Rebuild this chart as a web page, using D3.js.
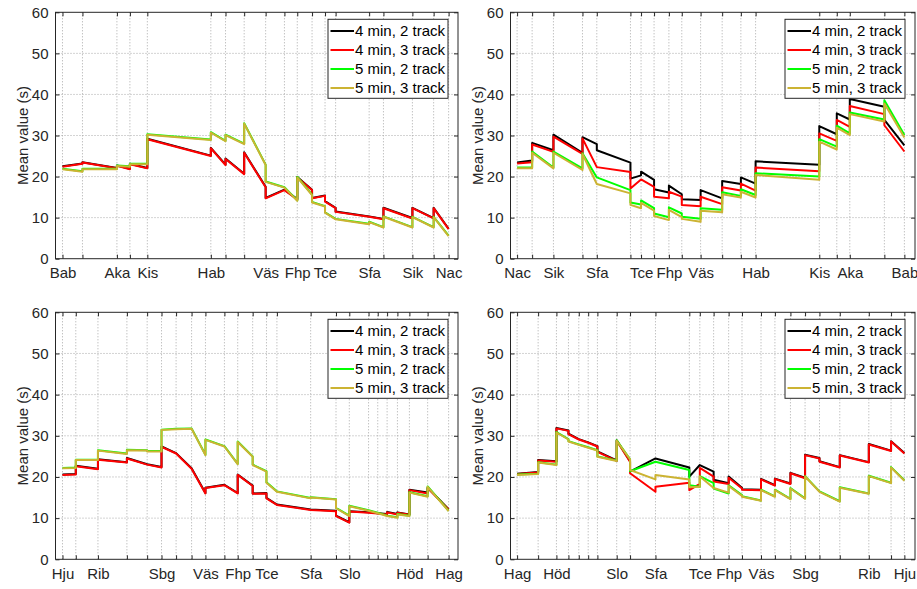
<!DOCTYPE html>
<html lang="en">
<head>
<meta charset="utf-8">
<title>Mean value per station</title>
<script src="https://cdn.jsdelivr.net/npm/d3@7"></script>
<style>
  body { margin: 0; background: #fff; }
  svg { font-family: "Liberation Sans", Arial, Helvetica, sans-serif; }
</style>
</head>
<body>
<svg width="917" height="589"></svg>
<script>
// stations along the two lines (distance in m from first station)
const stationsA = ["Bab","","Aka","","Kis","Hab","","","Väs","","Fhp","","Tce","","Sfa","","Sik","","Nac"];
const posA = [0, 500, 1363, 1688, 2125, 3715, 4083, 4550, 5088, 5558, 5880, 6250, 6575, 6840, 7680, 8038, 8763, 9295, 9670];
const stationsB = ["Hju","","Rib","","","Sbg","","","Väs","","Fhp","","Tce","","Sfa","","Slo","","","","","Höd","","Hag"];
const posB = [0, 333, 888, 1613, 2120, 2480, 2845, 3233, 3580, 4055, 4388, 4763, 5108, 5370, 6215, 6850, 7183, 7665, 7895, 8130, 8388, 8688, 9145, 9670];

const seriesNames = ["4 min, 2 track", "4 min, 3 track", "5 min, 2 track", "5 min, 3 track"];
const seriesColors = ["#000000", "#ff0000", "#00ff00", "#ccb333"];
const yTicks = [0, 10, 20, 30, 40, 50, 60];

// value per station: number, or [arriving, departing]
// panel 1: Bab -> Nac
const p1Black = [22.5, [23.2,23.5], [22.1,22.7], [21.9,23.1], [22.1,29.2], [25.1,27.0], [22.9,24.4], [20.7,25.9], [17.5,14.8], 16.8, [14.5,19.9], [16.8,14.8], [15.4,14.0], [12.4,11.5], 10.3, [9.7,12.4], [9.9,12.4], [9.9,12.4], 7.3];
const p1Red = [22.4, [23.1,23.4], [22.0,22.6], [21.8,23.0], [22.0,29.1], [25.0,26.9], [22.8,24.3], [20.6,25.8], [17.4,14.7], 16.7, [14.4,19.8], [16.7,14.7], [15.3,13.9], [12.3,11.4], 10.2, [9.6,12.3], [9.8,12.3], [9.8,12.3], 7.2];
const p1Green = [21.9, [21.3,21.9], [21.9,22.7], [22.5,23.1], [23.1,30.3], [29.0,30.8], [28.7,30.2], [28.0,33.0], [22.9,18.8], 17.4, [14.2,19.9], [15.6,13.8], [12.8,11.3], 9.7, [8.5,9.0], [7.7,10.3], [7.7,10.2], [7.7,10.2], 5.6];
const p1Olive = [21.8, [21.2,21.8], [21.8,22.6], [22.4,23.0], [23.0,30.2], [28.9,30.7], [28.6,30.1], [27.9,32.9], [22.8,18.7], 17.3, [14.1,19.8], [15.5,13.7], [12.7,11.2], 9.6, [8.4,8.9], [7.6,10.2], [7.6,10.1], [7.6,10.1], 5.5];

// panel 2: Nac -> Bab
const p2Black = [23.4, [23.9,28.2], [26.4,30.2], [25.8,29.6], [27.9,26.4], [23.4,19.5], [20.3,21.2], [19.2,16.9], [16.1,17.8], [15.7,14.5], [14.3,16.7], [14.7,18.9], [18.2,19.8], [18.3,23.7], [22.9,32.3], [30.3,35.4], [33.9,38.9], [37.0,33.8], 27.6];
const p2Red = [23.2, [23.5,27.8], [26.0,29.7], [25.5,29.3], 22.3, [21.1,17.1], 19.3, [17.5,15.1], [14.7,16.3], [15.1,13.1], [12.8,15.1], [13.3,17.4], [16.6,18.3], [16.6,22.2], [21.3,30.5], [28.7,33.8], [32.1,37.2], [35.2,32.5], 26.1];
const p2Green = [22.2, [22.2,26.1], [22.2,26.1], [22.0,25.7], 19.8, [16.7,13.7], [13.2,14.2], [12.3,11.0], [10.1,12.5], [11.0,10.2], [9.7,12.3], [11.9,16.2], [15.3,16.9], [15.5,20.8], [20.0,29.1], [27.3,32.4], [30.5,35.6], [33.9,38.6], 30.1];
const p2Olive = [22.0, [22.0,25.8], [22.0,25.8], [21.6,25.5], 18.2, [15.9,13.1], [12.3,13.6], [11.7,10.4], [9.4,11.9], [10.1,9.7], [9.0,11.7], [11.3,15.7], [14.9,16.3], [14.9,20.4], [19.2,28.5], [26.6,31.9], [30.1,35.2], [33.4,37.8], 29.5];

// panel 3: Hju -> Hag
const p3Black = [20.6, [20.7,22.7], [22.0,24.3], [23.6,24.6], 23.1, [22.4,27.4], 25.8, 22.1, [16.1,17.4], 18.1, [16.1,20.6], [17.9,16.0], [16.1,14.9], 13.3, 12.1, [11.8,10.6], [9.0,11.7], 11.4, 11.2, [11.0,11.5], [11.0,11.4], [10.9,16.9], [16.2,17.4], 12.2];
const p3Red = [20.5, [20.6,22.6], [21.9,24.2], [23.5,24.5], 23.0, [22.3,27.3], 25.7, 22.0, [16.0,17.3], 18.0, [16.0,20.5], [17.8,15.9], [16.0,14.8], 13.2, 12.0, [11.7,10.5], [8.9,11.6], 11.3, 11.1, [10.9,11.4], [10.9,11.3], [10.8,16.8], [16.0,17.3], 12.1];
const p3Green = [22.2, [22.3,24.2], [24.2,26.5], [25.7,26.6], [26.5,26.3], [26.3,31.5], 31.7, 31.8, [25.4,29.1], 27.5, [23.2,28.6], [25.0,23.0], [21.4,18.7], 16.5, [14.9,15.1], [14.6,12.5], [10.6,13.0], 11.9, 11.3, 10.6, [10.2,11.0], [10.6,16.3], [15.3,17.7], 11.8];
const p3Olive = [22.1, [22.2,24.1], [24.1,26.4], [25.6,26.5], [26.4,26.2], [26.2,31.4], 31.6, 31.7, [25.3,29.0], 27.4, [23.1,28.5], [24.9,22.9], [21.3,18.6], 16.4, [14.8,15.0], [14.5,12.4], [10.5,12.9], 11.8, 11.2, 10.5, [10.1,10.9], [10.5,16.2], [15.2,17.6], 11.7];

// panel 4: Hag -> Hju
const p4Black = [20.8, [21.2,24.1], [23.8,31.9], [31.3,30.5], 29.2, 28.4, [27.5,26.2], [24.0,28.9], [23.8,21.3], 24.5, [22.3,20.1], 22.9, [21.3,19.3], [18.5,20.1], [17.4,17.0], [16.9,19.5], [18.0,19.6], [18.4,21.0], [19.8,25.4], [24.6,23.8], [22.4,25.3], [23.6,28.0], [26.4,28.7], 25.8];
const p4Red = [20.7, [21.1,24.0], [23.7,31.8], [31.2,30.4], 29.1, 28.3, [27.4,26.1], [23.9,28.8], [23.7,20.9], [16.4,17.6], [18.6,16.8], [18.3,22.2], [20.1,18.9], [18.3,19.8], [17.2,16.9], [16.8,19.4], [17.9,19.5], [18.3,20.9], [19.7,25.3], [24.5,23.7], [22.3,25.2], [23.5,27.9], [26.3,28.6], 25.7];
const p4Green = [20.6, [20.8,23.6], [23.0,30.9], [29.2,28.7], 27.9, 27.2, [26.5,25.0], [24.0,28.9], [24.3,21.4], 23.7, [21.7,18.0], [17.6,20.2], [18.5,17.2], [16.0,18.0], [15.6,15.3], [14.3,16.9], [15.3,16.9], [14.7,17.3], [14.8,20.2], 16.5, [14.1,17.5], [16.0,20.3], [18.6,22.4], 19.2];
const p4Olive = [20.5, [20.7,23.5], [22.9,30.8], [29.1,28.6], 27.8, 27.1, [26.4,24.9], [23.9,28.8], [24.3,21.7], [19.4,20.5], [19.4,17.5], [17.6,20.1], 17.3, [16.2,17.8], [15.4,15.2], [14.2,16.8], [15.2,16.8], [14.6,17.2], [14.7,20.1], 16.4, [14.0,17.4], [15.9,20.2], [18.5,22.3], 19.1];

const axisColor = "#262626";
const total = 9670;

const panels = [
  { box: [55.5, 12.3, 458, 258.7], labels: stationsA, pos: posA, reversed: false, series: [p1Black, p1Red, p1Green, p1Olive] },
  { box: [510.5, 12.3, 915, 258.7], labels: stationsA.slice().reverse(), pos: posA.slice().reverse(), reversed: true, series: [p2Black, p2Red, p2Green, p2Olive] },
  { box: [55.5, 312.3, 458, 559.3], labels: stationsB, pos: posB, reversed: false, series: [p3Black, p3Red, p3Green, p3Olive] },
  { box: [510.5, 312.3, 915, 559.3], labels: stationsB.slice().reverse(), pos: posB.slice().reverse(), reversed: true, series: [p4Black, p4Red, p4Green, p4Olive] }
];

const svg = d3.select("svg");

panels.forEach(p => {
  const [x0, y0, x1, y1] = p.box;
  const x = d3.scaleLinear()
    .domain(p.reversed ? [total + 165, -265] : [-175, total + 235])
    .range([x0, x1]);
  const y = d3.scaleLinear().domain([0, 60]).range([y1, y0]);

  const g = svg.append("g");

  // grid
  g.append("g").selectAll("line").data(p.pos).enter().append("line")
    .attr("x1", d => x(d)).attr("x2", d => x(d))
    .attr("y1", y0).attr("y2", y1)
    .attr("stroke", "#a8a8a8").attr("stroke-width", 1)
    .attr("stroke-dasharray", "1,2");
  g.append("g").selectAll("line").data(yTicks.slice(1, -1)).enter().append("line")
    .attr("x1", x0).attr("x2", x1)
    .attr("y1", d => y(d)).attr("y2", d => y(d))
    .attr("stroke", "#a8a8a8").attr("stroke-width", 1)
    .attr("stroke-dasharray", "1,2");

  // series lines
  const line = d3.line().x(d => x(d[0])).y(d => y(d[1]));
  p.series.forEach((s, k) => {
    const pts = [];
    s.forEach((v, i) => {
      if (Array.isArray(v)) { pts.push([p.pos[i], v[0]]); pts.push([p.pos[i], v[1]]); }
      else pts.push([p.pos[i], v]);
    });
    g.append("path").datum(pts)
      .attr("d", line)
      .attr("fill", "none")
      .attr("stroke", seriesColors[k])
      .attr("stroke-width", 2)
      .attr("stroke-linejoin", "round");
  });

  // axes (ticks inside, box on)
  const xb = d3.axisBottom(x).tickValues(p.pos).tickSize(-4).tickPadding(9)
    .tickFormat((d, i) => p.labels[i]);
  const xt = d3.axisTop(x).tickValues(p.pos).tickSize(-4).tickFormat("");
  const yl = d3.axisLeft(y).tickValues(yTicks).tickSize(-4).tickPadding(7);
  const yr = d3.axisRight(y).tickValues(yTicks).tickSize(-4).tickFormat("");

  const styleAxis = a => {
    a.select(".domain").attr("stroke", axisColor);
    a.selectAll(".tick line").attr("stroke", axisColor);
    a.selectAll(".tick text").attr("fill", axisColor).attr("font-size", 15)
      .attr("font-family", "'Liberation Sans', Arial, sans-serif");
  };
  g.append("g").attr("transform", `translate(0,${y1})`).call(xb).call(styleAxis);
  g.append("g").attr("transform", `translate(0,${y0})`).call(xt).call(styleAxis);
  g.append("g").attr("transform", `translate(${x0},0)`).call(yl).call(styleAxis);
  g.append("g").attr("transform", `translate(${x1},0)`).call(yr).call(styleAxis);
  g.selectAll(".domain").attr("d", null);
  g.append("rect").attr("x", x0).attr("y", y0)
    .attr("width", x1 - x0).attr("height", y1 - y0)
    .attr("fill", "none").attr("stroke", axisColor).attr("stroke-width", 1);

  // y label
  g.append("text")
    .attr("transform", `translate(${x0 - 28},${(y0 + y1) / 2}) rotate(-90)`)
    .attr("text-anchor", "middle")
    .attr("font-size", 15).attr("fill", axisColor)
    .text("Mean value (s)");

  // legend
  const lw = 120, lh = 79;
  const lx = x1 - 10 - lw, ly = y0 + 7;
  const lg = g.append("g").attr("transform", `translate(${lx},${ly})`);
  lg.append("rect").attr("width", lw).attr("height", lh)
    .attr("fill", "#fff").attr("stroke", axisColor).attr("stroke-width", 1);
  seriesNames.forEach((name, k) => {
    const cy = 11.7 + k * 19;
    lg.append("line").attr("x1", 2.5).attr("x2", 26).attr("y1", cy).attr("y2", cy)
      .attr("stroke", seriesColors[k]).attr("stroke-width", 2);
    lg.append("text").attr("x", 27).attr("y", cy).attr("dy", "0.35em")
      .attr("font-size", 15).attr("fill", "#000").text(name);
  });
});
</script>
</body>
</html>
